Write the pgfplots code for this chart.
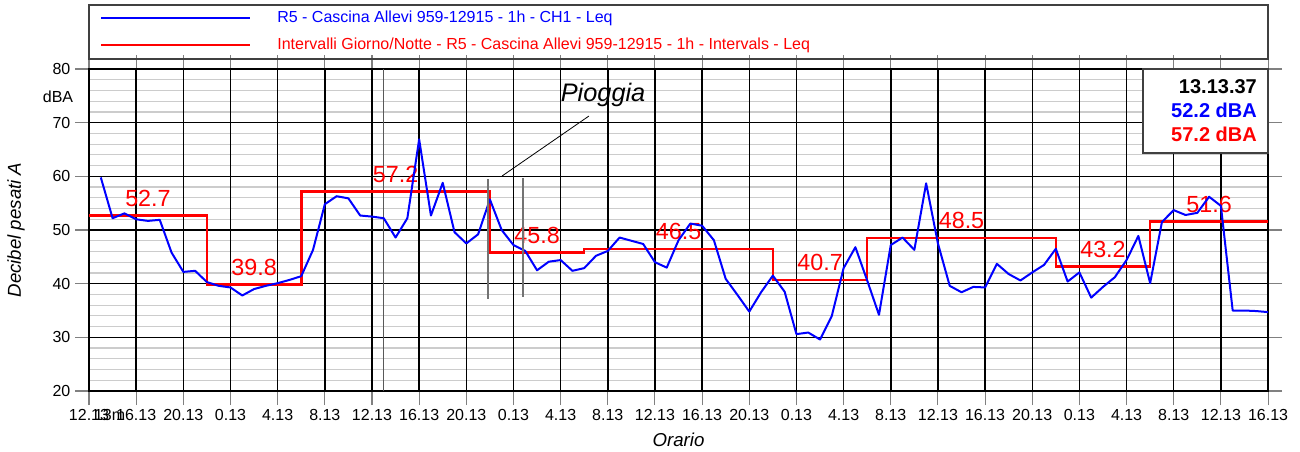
\documentclass[border=0pt]{standalone}
\usepackage{fontspec}
\setmainfont{Liberation Sans}
\usepackage{pgfplots}
\pgfplotsset{compat=1.18}
\definecolor{lineblue}{RGB}{0,0,255}
\definecolor{stepred}{RGB}{255,0,0}
\newcommand{\fs}[1]{\fontsize{#1}{#1}\selectfont}

\begin{document}
\begin{tikzpicture}
\begin{axis}[
  width=884.25pt, height=241.5pt, scale only axis,
  xmin=0, xmax=100, ymin=20, ymax=80,
  clip=false,
  xtick={0,4,...,100},
  xticklabels={12.13,16.13,20.13,0.13,4.13,8.13,12.13,16.13,20.13,0.13,4.13,8.13,12.13,16.13,20.13,0.13,4.13,8.13,12.13,16.13,20.13,0.13,4.13,8.13,12.13,16.13},
  ytick={20,30,...,80},
  minor ytick={22,24,...,78},
  xmajorgrids=false,
  ymajorgrids=true, yminorgrids=true,
  extra x ticks={4,8,...,96},
  extra x tick labels={},
  extra x tick style={grid=major, major tick length=0pt},
  major grid style={black, line width=1.1pt},
  minor grid style={black!20, line width=0.9pt},
  axis line style={black, line width=1.3pt},
  tick align=outside,
  major tick length=10.5pt,
  minor tick length=0pt,
  major tick style={black!50, line width=0.8pt},
  /pgf/number format/assume math mode=true,
  ticklabel style={font=\fs{12}},
  xlabel={Orario},
  ylabel={Decibel pesati A},
  xlabel style={font=\fs{14}\itshape, at={(axis description cs:0.5,-0.152)}, anchor=center},
  ylabel style={font=\fs{14}\itshape, at={(axis description cs:-0.0619,0.5)}, anchor=center},
]
% cursor line at 13.13
\draw[black!65, line width=0.75pt] (axis cs:25,20) -- (axis cs:25,80);

% day/night intervals
\addplot[stepred, line width=1.9pt, const plot] coordinates {
  (0,52.7) (10,39.8) (18,57.2) (34,45.8) (42,46.5) (58,40.7)
  (66,48.5) (82,43.2) (90,51.6) (100,51.6)
};

\begin{scope}[every node/.style={text=stepred, font=\fs{17.5}, inner sep=0pt, anchor=center}]
\node at (axis cs:5,55.9) {52.7};
\node at (axis cs:14,43.0) {39.8};
\node at (axis cs:26,60.4) {57.2};
\node at (axis cs:38,49.0) {45.8};
\node at (axis cs:50,49.7) {46.5};
\node at (axis cs:62,43.9) {40.7};
\node at (axis cs:74,51.7) {48.5};
\node at (axis cs:86,46.4) {43.2};
\node at (axis cs:95,54.8) {51.6};
\end{scope}

% hourly Leq
\addplot[lineblue, line width=1.5pt, line join=round] coordinates {
  (1,59.8) (2,52.2) (3,53.1) (4,52.0) (5,51.7) (6,51.9) (7,45.8) (8,42.2) (9,42.4) (10,40.3)
  (11,39.6) (12,39.3) (13,37.8) (14,39.0) (15,39.6) (16,40.1) (17,40.7) (18,41.4) (19,46.3) (20,54.8)
  (21,56.3) (22,55.9) (23,52.7) (24,52.5) (25,52.2) (26,48.6) (27,52.2) (28,66.9) (29,52.7) (30,58.8)
  (31,49.6) (32,47.5) (33,49.2) (34,55.7) (35,50.0) (36,47.2) (37,46.1) (38,42.5) (39,44.1) (40,44.4)
  (41,42.4) (42,42.9) (43,45.2) (44,46.1) (45,48.6) (46,48.0) (47,47.4) (48,44.0) (49,43.0) (50,48.1)
  (51,51.2) (52,50.8) (53,48.1) (54,40.9) (55,37.9) (56,34.8) (57,38.4) (58,41.5) (59,38.5) (60,30.6)
  (61,30.9) (62,29.6) (63,34.0) (64,42.9) (65,46.8) (66,40.6) (67,34.2) (68,47.2) (69,48.6) (70,46.3)
  (71,58.7) (72,47.5) (73,39.6) (74,38.4) (75,39.4) (76,39.3) (77,43.7) (78,41.8) (79,40.6) (80,42.1)
  (81,43.5) (82,46.5) (83,40.4) (84,42.1) (85,37.4) (86,39.4) (87,41.2) (88,44.4) (89,48.9) (90,40.1)
  (91,51.5) (92,53.7) (93,52.8) (94,53.2) (95,56.2) (96,54.5) (97,35.0) (98,35.0) (99,34.9) (100,34.7)
};

% rain annotation
\draw[black!55, line width=0.9pt] (axis cs:33.84,59.5) -- (axis cs:33.84,37.1);
\draw[black!55, line width=0.9pt] (axis cs:36.81,59.7) -- (axis cs:36.81,37.5);
\draw[black, line width=0.6pt] (axis cs:42.4,71.24) -- (axis cs:35.03,60.06);
\node[font=\fs{19}\itshape, inner sep=0pt] at (axis cs:43.6,75.15) {Pioggia};

% unit and stray tick text
\node[font=\fs{12}, inner sep=0pt] at (axis cs:-2.63,74.78) {dBA};
\node[font=\fs{12}, inner sep=0pt] at (axis cs:1.75,15.45) {13m};

% cursor box
\draw[black!75, line width=0.9pt, fill=white] (axis cs:89.4,80) rectangle (axis cs:100,64.35);
\begin{scope}[every node/.style={font=\fs{15}\bfseries, inner sep=0pt, anchor=east}]
\node[text=black] at (axis cs:99.07,76.7) {13.13.37};
\node[text=lineblue] at (axis cs:99.07,72.23) {52.2 dBA};
\node[text=stepred] at (axis cs:99.07,67.89) {57.2 dBA};
\end{scope}

% legend
\draw[black!75, line width=0.9pt] (axis cs:0,91.92) rectangle (axis cs:100,81.86);
\draw[lineblue, line width=1.5pt] (axis cs:1.02,89.5) -- (axis cs:13.66,89.5);
\draw[stepred, line width=1.9pt] (axis cs:1.02,84.47) -- (axis cs:13.66,84.47);
\node[font=\fs{12}, text=lineblue, anchor=west, inner sep=0pt] at (axis cs:15.95,89.5) {R5 - Cascina Allevi 959-12915 - 1h - CH1 - Leq};
\node[font=\fs{12}, text=stepred, anchor=west, inner sep=0pt] at (axis cs:15.95,84.47) {Intervalli Giorno/Notte - R5 - Cascina Allevi 959-12915 - 1h - Intervals - Leq};

\coordinate (bbsw) at (axis cs:-7.55,8.64);
\coordinate (bbne) at (axis cs:102.71,92.86);
\end{axis}
\pgfresetboundingbox
\path[use as bounding box] (bbsw) rectangle (bbne);
\end{tikzpicture}
\end{document}
